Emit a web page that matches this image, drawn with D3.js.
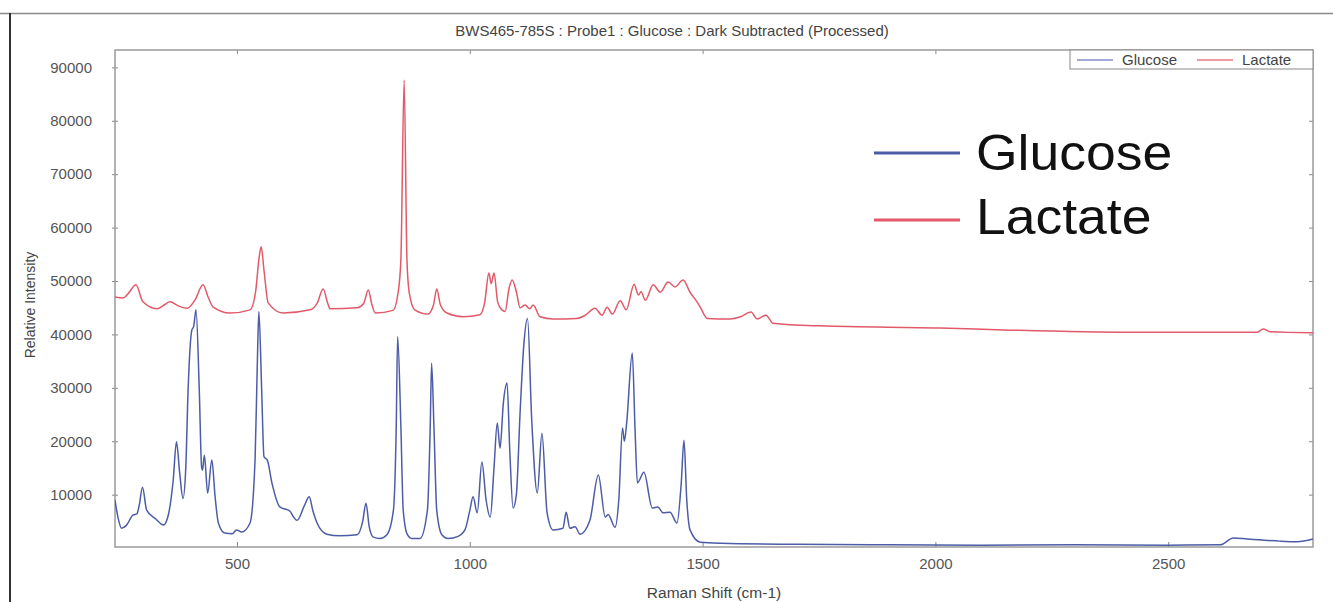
<html>
    <head>
        <meta charset="utf-8">
        <title>BWS465-785S Raman spectra</title>
        <script src="https://d3js.org/d3.v7.min.js"></script>
    </head>
    <style>
    body{
        background-color:white;
        padding:0;
        margin:0;
    }
    svg text{
        font-family:'Liberation Sans', Arial, sans-serif;
    }
    </style>
    <body>
        <svg id="image" width="1333" height="602"></svg>
    </body>
    <script>
        // Raman shift (cm-1) and relative intensity
        var glucoseShift = [238, 245, 252, 262, 277, 285, 290, 297, 306, 325, 342, 352, 363, 370, 377, 384, 390, 395, 403, 407,
            412, 419, 424, 426, 430, 437, 446, 453, 460, 474, 490, 499, 510, 528, 539, 544, 547, 553, 558, 565,
            575, 592, 614, 620, 629, 645, 655, 663, 672, 693, 720, 758, 770, 777, 784, 792, 807, 822, 836, 842,
            845, 852, 857, 866, 875, 893, 909, 915, 918, 923, 929, 940, 953, 975, 990, 1000, 1007, 1016, 1026, 1035,
            1044, 1052, 1059, 1065, 1072, 1080, 1086, 1093, 1100, 1108, 1116, 1124, 1133, 1145, 1155, 1166, 1179, 1200, 1207, 1215,
            1226, 1237, 1258, 1276, 1291, 1297, 1312, 1320, 1328, 1332, 1337, 1349, 1355, 1360, 1374, 1392, 1404, 1415, 1430, 1445,
            1454, 1460, 1466, 1473, 1495, 1540, 1700, 1900, 2100, 2300, 2500, 2612, 2640, 2670, 2702, 2740, 2777, 2811];
        var glucoseIntensity = [9000, 5500, 3700, 4200, 6200, 6400, 8000, 11400, 7100, 5500, 4300, 6000, 12700, 19900, 14000, 9300, 15000, 29600, 40800, 41500,
            44600, 29600, 15200, 14600, 17400, 10300, 16500, 9600, 4700, 2800, 2700, 3400, 3000, 4700, 17000, 35800, 44300, 29600, 17100, 16500,
            12200, 7700, 6900, 6000, 5200, 8000, 9600, 7000, 4700, 2600, 2300, 2500, 5000, 8400, 4000, 2100, 1800, 2500, 7100, 22700,
            39600, 22700, 7100, 2500, 1800, 1800, 7100, 22700, 34600, 22700, 7100, 2500, 1800, 2200, 3500, 7000, 9600, 6600, 16100, 9000,
            5800, 15000, 23400, 18700, 27100, 30900, 18000, 7500, 10000, 25300, 38000, 43000, 24000, 10300, 21500, 6600, 3400, 3700, 6700, 3700,
            4000, 2600, 5200, 13700, 5800, 6300, 3900, 9000, 22500, 20000, 23500, 36500, 22000, 12200, 14200, 7500, 7700, 6600, 6700, 4700,
            12000, 20200, 9000, 3400, 1100, 900, 700, 600, 550, 600, 550, 600, 1900, 1700, 1500, 1300, 1200, 1700];

        var lactateShift = [238, 255, 265, 283, 298, 328, 345, 356, 375, 393, 410, 427, 438, 449, 485, 528, 540, 547, 552, 558,
            567, 599, 657, 672, 685, 695, 700, 758, 772, 782, 790, 797, 835, 846, 852, 859, 865, 870, 882, 910,
            922, 929, 937, 951, 986, 1022, 1032, 1041, 1046, 1052, 1060, 1069, 1076, 1084, 1091, 1100, 1108, 1119, 1129, 1136,
            1151, 1179, 1230, 1248, 1269, 1284, 1295, 1306, 1323, 1336, 1353, 1362, 1368, 1377, 1394, 1409, 1426, 1441, 1458, 1473,
            1488, 1495, 1510, 1559, 1581, 1604, 1617, 1636, 1651, 1752, 2010, 2161, 2418, 2691, 2704, 2719, 2811];
        var lactateIntensity = [47000, 46800, 47500, 49300, 46100, 44800, 45600, 46100, 45300, 44900, 46500, 49300, 47000, 45100, 44000, 44600, 48000, 54000, 56400, 52000,
            45900, 44000, 44600, 45800, 48500, 45800, 44800, 45000, 45800, 48300, 45500, 44000, 44500, 47800, 54000, 87600, 54000, 47800, 44600, 43800,
            45500, 48500, 45500, 44000, 43300, 43700, 46000, 51500, 49500, 51500, 46000, 44600, 44300, 48500, 50200, 48000, 45000, 45500, 44800, 45500,
            43300, 42900, 43000, 43600, 44900, 43600, 45100, 43800, 46300, 44600, 49400, 47400, 48000, 46400, 49300, 47900, 49800, 48900, 50200, 47900,
            46100, 45100, 43000, 42900, 43300, 44200, 42900, 43600, 42100, 41600, 41200, 40800, 40400, 40400, 41000, 40500, 40300];

        var xTicks = [500, 1000, 1500, 2000, 2500];
        var yTicks = [10000, 20000, 30000, 40000, 50000, 60000, 70000, 80000, 90000];
        var seriesNames = ["Glucose", "Lactate"];
        var seriesColors = ["#4c5ca6", "#e2596a"];
        var legendColors = ["#a2aad6", "#f29aa3"];

        var svg = d3.select("#image");
        var plotLeft = 115, plotTop = 50, plotRight = 1313, plotBottom = 547;

        var x = d3.scaleLinear().domain([238, 2811]).range([plotLeft, plotRight]);
        var y = d3.scaleLinear().domain([200, 93250]).range([plotBottom, plotTop]);

        svg.append("rect").attr("width", 1333).attr("height", 602).attr("fill", "white");

        // window frame from the screenshot
        svg.append("line").attr("x1", 0).attr("x2", 1333).attr("y1", 13.5).attr("y2", 13.5)
            .attr("stroke", "#8a8a8a").attr("stroke-width", 1.5);
        svg.append("line").attr("x1", 10).attr("x2", 10).attr("y1", 13).attr("y2", 602)
            .attr("stroke", "#333").attr("stroke-width", 2);

        svg.append("text").attr("x", 672).attr("y", 36).attr("text-anchor", "middle")
            .attr("font-size", 15).attr("fill", "#444")
            .text("BWS465-785S : Probe1 : Glucose : Dark Subtracted (Processed)");

        function styleAxis(g) {
            g.select(".domain").remove();
            g.selectAll("line").attr("stroke", "#888");
            g.selectAll("text").attr("fill", "#555").attr("font-size", 15)
                .attr("font-family", "'Liberation Sans', Arial, sans-serif");
        }

        var yAxis = svg.append("g").attr("transform", "translate(" + plotLeft + ",0)")
            .call(d3.axisLeft(y).tickValues(yTicks).tickFormat(d3.format("d")).tickSize(3).tickPadding(20));
        yAxis.selectAll(".tick line").attr("x1", 3);
        styleAxis(yAxis);

        var yAxisRight = svg.append("g").attr("transform", "translate(" + plotRight + ",0)")
            .call(d3.axisRight(y).tickValues(yTicks).tickSize(-4).tickFormat(""));
        styleAxis(yAxisRight);

        var xAxis = svg.append("g").attr("transform", "translate(0," + plotBottom + ")")
            .call(d3.axisBottom(x).tickValues(xTicks).tickFormat(d3.format("d")).tickSize(-5).tickPadding(11));
        styleAxis(xAxis);

        var xAxisTop = svg.append("g").attr("transform", "translate(0," + plotTop + ")")
            .call(d3.axisTop(x).tickValues(xTicks).tickSize(-4).tickFormat(""));
        styleAxis(xAxisTop);

        // plot frame
        svg.append("rect").attr("x", plotLeft).attr("y", plotTop)
            .attr("width", plotRight - plotLeft).attr("height", plotBottom - plotTop)
            .attr("fill", "none").attr("stroke", "#9a9a9a").attr("stroke-width", 1.5);

        svg.append("text").attr("x", (plotLeft + plotRight) / 2).attr("y", 598).attr("text-anchor", "middle")
            .attr("font-size", 15.5).attr("fill", "#444").text("Raman Shift (cm-1)");
        svg.append("text").attr("transform", "translate(35,305) rotate(-90)").attr("text-anchor", "middle")
            .attr("font-size", 14).attr("fill", "#444").text("Relative Intensity");

        svg.append("clipPath").attr("id", "plotClip").append("rect")
            .attr("x", plotLeft).attr("y", plotTop).attr("width", plotRight - plotLeft).attr("height", plotBottom - plotTop);

        var line = d3.line()
            .x(function(d) { return x(d[0]); })
            .y(function(d) { return y(d[1]); })
            .curve(d3.curveMonotoneX);

        var series = [d3.zip(glucoseShift, glucoseIntensity), d3.zip(lactateShift, lactateIntensity)];

        svg.append("g").attr("clip-path", "url(#plotClip)")
            .selectAll("path").data(series).enter().append("path")
            .attr("d", line)
            .attr("fill", "none")
            .attr("stroke", function(d, i) { return seriesColors[i]; })
            .attr("stroke-width", 1.5)
            .attr("stroke-linejoin", "round");

        // small legend box in the corner
        svg.append("rect").attr("x", 1070).attr("y", 50).attr("width", 243).attr("height", 19)
            .attr("fill", "white").attr("stroke", "#888");
        for (var i = 0; i < 2; i++) {
            var lx = 1077 + i * 120;
            svg.append("line").attr("x1", lx).attr("x2", lx + 36).attr("y1", 60).attr("y2", 60)
                .attr("stroke", legendColors[i]).attr("stroke-width", 2);
            svg.append("text").attr("x", lx + 45).attr("y", 64.5).attr("font-size", 15)
                .attr("fill", "#444").text(seriesNames[i]);
        }

        // big annotation legend
        for (var j = 0; j < 2; j++) {
            var ly = 153 + j * 67;
            svg.append("line").attr("x1", 874).attr("x2", 960).attr("y1", ly).attr("y2", ly)
                .attr("stroke", seriesColors[j]).attr("stroke-width", 3);
            svg.append("text").attr("x", 976).attr("y", ly + 17 - j * 3)
                .attr("font-size", 50).attr("fill", "#111")
                .attr("transform", "translate(976,0) scale(1.07,1) translate(-976,0)")
                .text(seriesNames[j]);
        }
    </script>
</html>
